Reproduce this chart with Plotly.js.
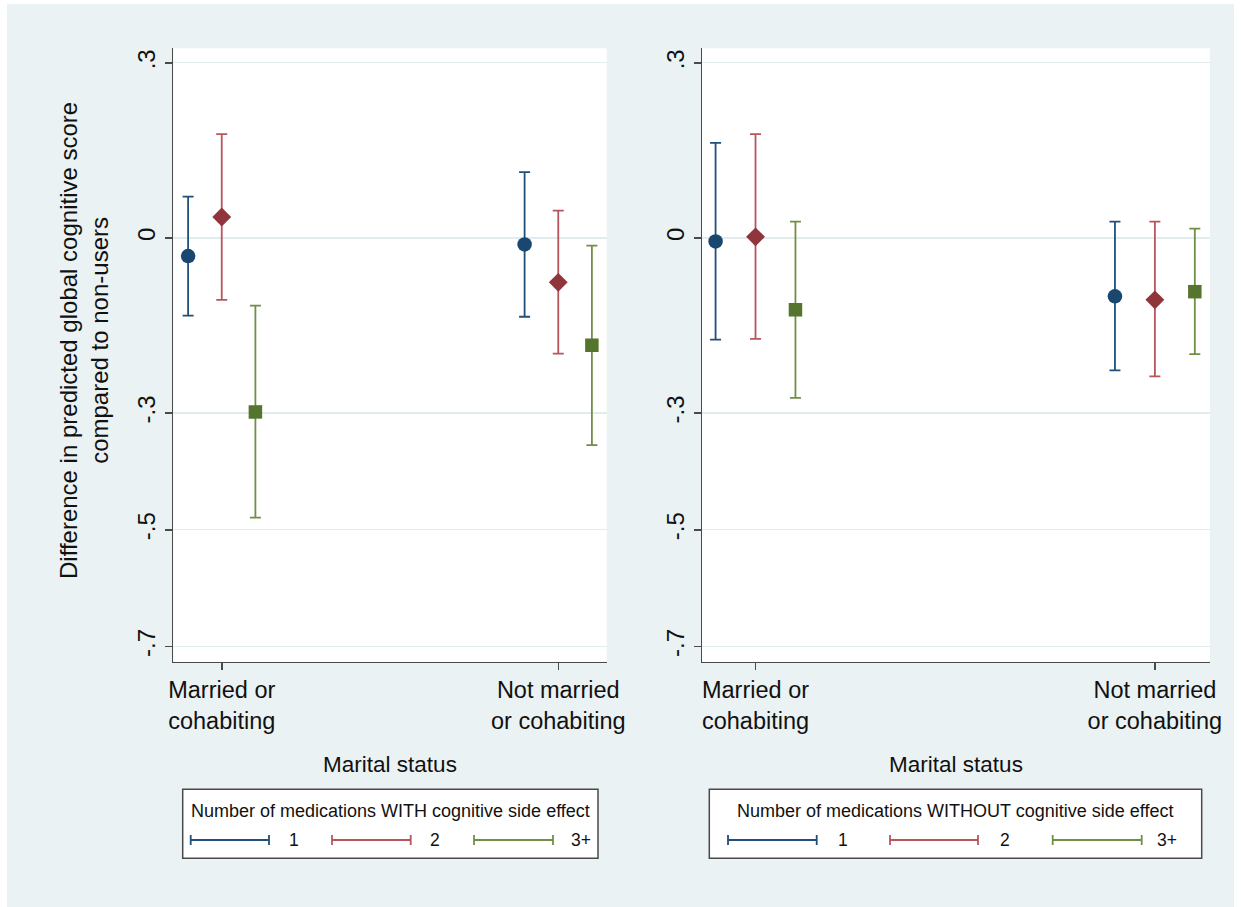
<!DOCTYPE html>
<html>
<head>
<meta charset="utf-8">
<script src="https://cdn.plot.ly/plotly-3.0.1.min.js"></script>
<style>html,body{margin:0;padding:0;background:#fff;}#chart{width:1241px;height:907px;}</style>
</head>
<body>
<div id="chart"></div>
<script>
// ---- data ----
const categories = ['Married or<br>cohabiting', 'Not married<br>or cohabiting'];
const categoryPos = [1, 2];
const groups = ['1', '2', '3+'];
const yTickVals = [0.3, 0, -0.3, -0.5, -0.7];
const yTickText = ['.3', '0', '-.3', '-.5', '-.7'];

// Left panel: medications WITH cognitive side effect
const withEst1 = [-0.031, -0.011];
const withLo1  = [-0.133, -0.135];
const withHi1  = [0.071, 0.113];
const withEst2 = [0.036, -0.076];
const withLo2  = [-0.106, -0.198];
const withHi2  = [0.178, 0.047];
const withEst3 = [-0.298, -0.184];
const withLo3  = [-0.479, -0.355];
const withHi3  = [-0.116, -0.013];

// Right panel: medications WITHOUT cognitive side effect
const withoutEst1 = [-0.006, -0.100];
const withoutLo1  = [-0.174, -0.227];
const withoutHi1  = [0.163, 0.028];
const withoutEst2 = [0.002, -0.106];
const withoutLo2  = [-0.173, -0.237];
const withoutHi2  = [0.178, 0.028];
const withoutEst3 = [-0.123, -0.092];
const withoutLo3  = [-0.274, -0.199];
const withoutHi3  = [0.028, 0.016];

const yTitle = 'Difference in predicted global cognitive score<br>compared to non-users';
const xTitle = 'Marital status';
const legendTitleLeft = 'Number of medications WITH cognitive side effect';
const legendTitleRight = 'Number of medications WITHOUT cognitive side effect';

// ---- styles ----
const W = 1241, H = 907;
const FONT = 'Liberation Sans, Arial, Helvetica, sans-serif';
const markerColors = ['#1a476f', '#90353b', '#55752f'];
const ciColors = ['#1f4f7a', '#b8555c', '#6f8f46'];
const symbols = ['circle', 'diamond', 'square'];
const sizes = [14.5, 14.5, 13.5];
const groupOffset = [-0.1, 0, 0.1];

function px(x) { return x / W; }
function py(y) { return 1 - y / H; }

const panels = [
  { est: [withEst1, withEst2, withEst3], lo: [withLo1, withLo2, withLo3], hi: [withHi1, withHi2, withHi3], xa: 'x', ya: 'y' },
  { est: [withoutEst1, withoutEst2, withoutEst3], lo: [withoutLo1, withoutLo2, withoutLo3], hi: [withoutHi1, withoutHi2, withoutHi3], xa: 'x2', ya: 'y2' }
];

const traces = [];
panels.forEach((p, pi) => {
  for (let g = 0; g < groups.length; g++) {
    const est = p.est[g];
    traces.push({
      type: 'scatter', mode: 'markers',
      x: categoryPos.map(c => c + groupOffset[g]),
      y: est,
      xaxis: p.xa, yaxis: p.ya,
      name: groups[g],
      showlegend: false,
      marker: { symbol: symbols[g], size: sizes[g], color: markerColors[g], line: { width: 0 } },
      error_y: {
        type: 'data', symmetric: false,
        array: est.map((v, i) => p.hi[g][i] - v),
        arrayminus: est.map((v, i) => v - p.lo[g][i]),
        color: ciColors[g], thickness: 1.8, width: 5.5
      }
    });
  }
});

const axisCommon = {
  showline: true, linecolor: '#4a4a4a', linewidth: 1.5,
  ticks: 'outside', ticklen: 7, tickwidth: 1.5, tickcolor: '#4a4a4a',
  zeroline: false, fixedrange: true, automargin: false
};
const xCommon = Object.assign({}, axisCommon, {
  tickvals: categoryPos, ticktext: categories, showgrid: false,
  tickfont: { family: FONT, size: 23.5, color: '#111' },
  title: { text: xTitle, font: { family: FONT, size: 22.5, color: '#111' }, standoff: 23 }
});
const yCommon = Object.assign({}, axisCommon, {
  range: [-0.726, 0.325], tickvals: yTickVals, ticktext: yTickText, tickangle: -90,
  showgrid: true, gridcolor: '#e2ecef', gridwidth: 1.2,
  tickfont: { family: FONT, size: 24, color: '#111' }
});

const layout = {
  width: W, height: H,
  margin: { l: 0, r: 0, t: 0, b: 0, pad: 0 },
  paper_bgcolor: '#eaf2f3', plot_bgcolor: '#ffffff',
  showlegend: false,
  font: { family: FONT, color: '#111' },
  xaxis: Object.assign({}, xCommon, { domain: [px(173.3), px(606.7)], range: [0.856, 2.144], anchor: 'y' }),
  yaxis: Object.assign({}, yCommon, { domain: [py(661.7), py(48.3)], anchor: 'x' }),
  xaxis2: Object.assign({}, xCommon, { domain: [px(702), px(1210)], range: [0.866, 2.138], anchor: 'y2' }),
  yaxis2: Object.assign({}, yCommon, { domain: [py(661.7), py(48.3)], anchor: 'x2' }),
  shapes: [],
  annotations: []
};

// white outer border strips
[[0, 0, 7, H], [0, 0, W, 4], [1234, 0, W, H]].forEach(r => {
  layout.shapes.push({ type: 'rect', xref: 'paper', yref: 'paper', x0: px(r[0]), x1: px(r[2]), y0: py(r[1]), y1: py(r[3]), fillcolor: '#ffffff', line: { width: 0 }, layer: 'below' });
});

// y-axis title (left panel)
layout.annotations.push({
  xref: 'paper', yref: 'paper', x: px(84), y: py(341), text: yTitle, textangle: -90,
  showarrow: false, xanchor: 'center', yanchor: 'middle',
  font: { family: FONT, size: 24, color: '#111' }
});

// legends
const legends = [
  { box: [182.7, 789.3, 598, 858.3], title: legendTitleLeft, keys: [[190.7, 269, 287], [332, 410.7, 428], [474, 553, 569]] },
  { box: [709.3, 789.3, 1201.7, 858.3], title: legendTitleRight, keys: [[728, 816.7, 836], [890, 978, 998], [1052.7, 1141.7, 1155]] }
];
legends.forEach(lg => {
  const b = lg.box;
  layout.shapes.push({ type: 'rect', xref: 'paper', yref: 'paper', x0: px(b[0]), x1: px(b[2]), y0: py(b[1]), y1: py(b[3]), fillcolor: '#ffffff', line: { color: '#4a4a4a', width: 1.5 } });
  layout.annotations.push({
    xref: 'paper', yref: 'paper', x: px((b[0] + b[2]) / 2), y: py(811), text: lg.title,
    showarrow: false, xanchor: 'center', yanchor: 'middle',
    font: { family: FONT, size: 18, color: '#111' }
  });
  const ky = 840;
  lg.keys.forEach((k, g) => {
    const c = ciColors[g];
    layout.shapes.push({ type: 'line', xref: 'paper', yref: 'paper', x0: px(k[0]), x1: px(k[1]), y0: py(ky), y1: py(ky), line: { color: c, width: 1.8 } });
    layout.shapes.push({ type: 'line', xref: 'paper', yref: 'paper', x0: px(k[0]), x1: px(k[0]), y0: py(ky - 5), y1: py(ky + 5), line: { color: c, width: 1.8 } });
    layout.shapes.push({ type: 'line', xref: 'paper', yref: 'paper', x0: px(k[1]), x1: px(k[1]), y0: py(ky - 5), y1: py(ky + 5), line: { color: c, width: 1.8 } });
    layout.annotations.push({
      xref: 'paper', yref: 'paper', x: px(k[2]), y: py(ky), text: groups[g],
      showarrow: false, xanchor: 'left', yanchor: 'middle',
      font: { family: FONT, size: 17.5, color: '#111' }
    });
  });
});

Plotly.newPlot('chart', traces, layout, { displayModeBar: false, staticPlot: true });
</script>
</body>
</html>
